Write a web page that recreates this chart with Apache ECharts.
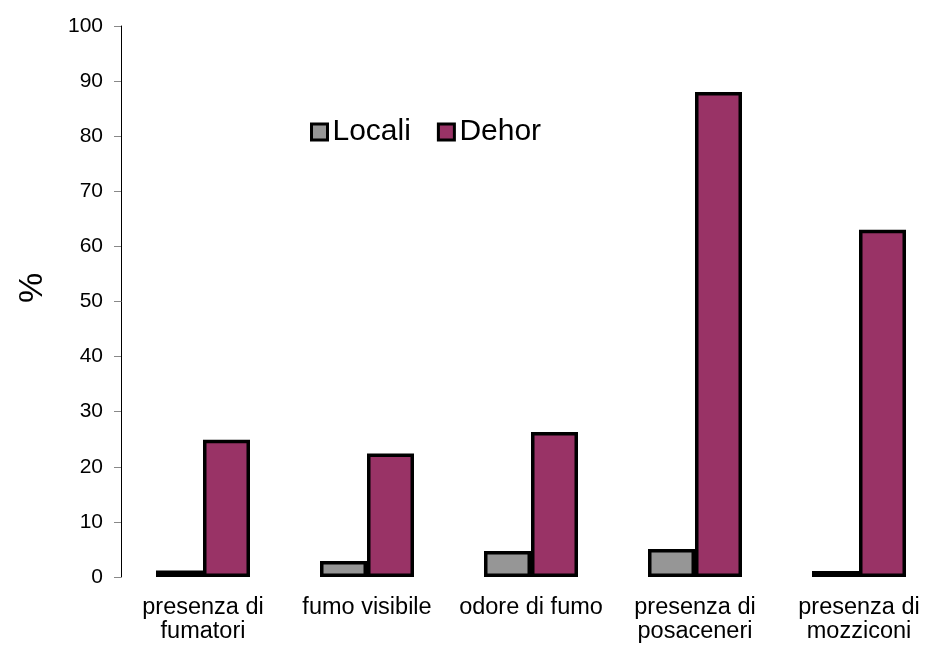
<!DOCTYPE html>
<html>
<head>
<meta charset="utf-8">
<script src="https://cdn.jsdelivr.net/npm/echarts@6/dist/echarts.min.js"></script>
<style>
html,body{margin:0;padding:0;background:#fff;}
#c{width:934px;height:651px;}
</style>
</head>
<body>
<div id="c"></div>
<script>
const categories = ['presenza di\nfumatori', 'fumo visibile', 'odore di fumo', 'presenza di\nposaceneri', 'presenza di\nmozziconi'];
const locali = [1.2, 2.9, 4.7, 5.1, 1.1];
const dehor = [24.9, 22.4, 26.3, 88.0, 63.0];
const yTicks = { min: 0, max: 100, interval: 10 };

const chart = echarts.init(document.getElementById('c'), null, { renderer: 'canvas' });
const font = 'Arial, "Liberation Sans", sans-serif';
chart.setOption({
  animation: false,
  backgroundColor: '#fff',
  grid: { left: 121, top: 26, width: 820, height: 551, containLabel: false, outerBoundsMode: 'none' },
  graphic: [{
    type: 'text', x: 33, y: 288, rotation: Math.PI / 2,
    style: { text: '%', font: '34px ' + font, fill: '#000', textAlign: 'center', textVerticalAlign: 'middle' }
  }],
  legend: {
    left: 305, top: 112,
    itemWidth: 16, itemHeight: 16, itemGap: 26,
    icon: 'rect',
    textStyle: { fontFamily: font, fontSize: 30, color: '#000' },
    itemStyle: { borderColor: '#000', borderWidth: 3 },
    data: ['Locali', 'Dehor']
  },
  xAxis: {
    type: 'category',
    data: categories,
    axisLine: { show: false },
    axisTick: { show: false },
    axisLabel: { fontFamily: font, fontSize: 23.5, color: '#000', margin: 19, lineHeight: 24, interval: 0 }
  },
  yAxis: {
    type: 'value',
    min: yTicks.min, max: yTicks.max, interval: yTicks.interval,
    axisLine: { show: true, lineStyle: { color: '#000', width: 1 } },
    axisTick: { show: true, length: 7, lineStyle: { color: '#888', width: 1 } },
    splitLine: { show: false },
    axisLabel: { fontFamily: font, fontSize: 21, color: '#000', margin: 18 }
  },
  series: [
    { name: 'Locali', type: 'bar', data: locali, barWidth: 47, barGap: '0%',
      itemStyle: { color: '#969696', borderColor: '#000', borderWidth: 3.5 } },
    { name: 'Dehor', type: 'bar', data: dehor, barWidth: 47, barGap: '0%',
      itemStyle: { color: '#993366', borderColor: '#000', borderWidth: 3.5 } }
  ]
});
</script>
</body>
</html>
